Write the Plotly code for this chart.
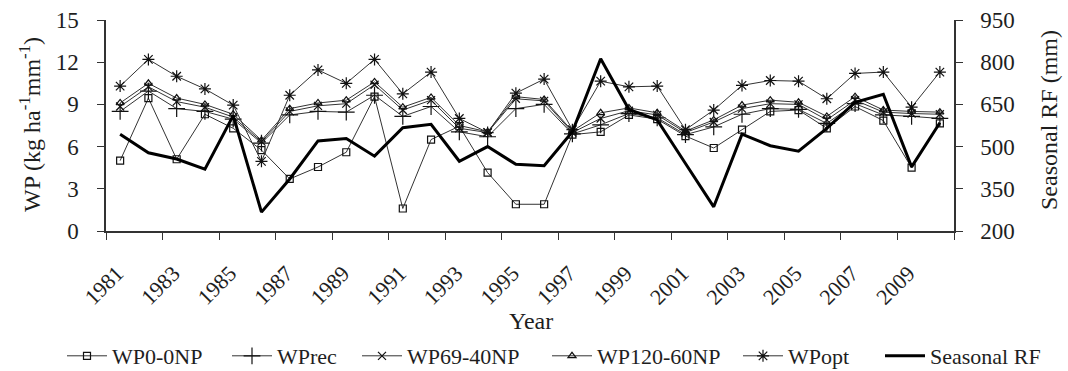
import plotly.graph_objects as go

years = list(range(1981, 2011))

wp0 = [5.0, 9.45, 5.1, 8.3, 7.3, 5.75, 3.7, 4.55, 5.6, 9.55, 1.6, 6.5, 7.45, 4.15, 1.9,
       1.9, 6.85, 7.05, 8.25, 7.95, 6.75, 5.9, 7.2, 8.5, 8.6, 7.3, 8.85, 7.85, 4.5, 7.65]
wprec = [8.5, 9.95, 8.7, 8.5, 7.95, 6.25, 8.25, 8.5, 8.45, 9.65, 8.15, 8.85, 7.05, 6.7, 8.7,
         9.0, 6.9, 7.55, 8.35, 8.05, 6.85, 7.4, 8.3, 8.7, 8.65, 7.65, 9.05, 8.25, 8.15, 8.0]
wp69 = [8.85, 10.25, 9.2, 8.8, 8.1, 6.35, 8.5, 8.9, 9.05, 10.4, 8.6, 9.3, 7.3, 7.0, 9.4,
        9.25, 7.0, 8.0, 8.55, 8.25, 7.0, 7.75, 8.7, 9.05, 9.0, 7.9, 9.3, 8.45, 8.35, 8.3]
wp120 = [9.1, 10.5, 9.45, 9.0, 8.3, 6.45, 8.7, 9.1, 9.3, 10.6, 8.8, 9.5, 7.5, 7.05, 9.55,
         9.35, 7.1, 8.4, 8.75, 8.4, 7.1, 7.9, 8.95, 9.3, 9.15, 8.15, 9.55, 8.6, 8.5, 8.45]
wpopt = [10.3, 12.2, 11.0, 10.1, 8.95, 4.95, 9.65, 11.45, 10.5, 12.2, 9.75, 11.3, 8.0, 7.0, 9.8,
         10.8, 7.2, 10.65, 10.25, 10.3, 7.2, 8.6, 10.35, 10.7, 10.65, 9.4, 11.2, 11.3, 8.8, 11.3]
seasonal_rf = [544, 478, 456, 420, 610, 267, 385, 520, 529, 466, 567, 579, 448, 500, 437,
               432, 553, 812, 632, 595, 440, 286, 544, 503, 484, 565, 657, 686, 428, 585]

tick_years = list(range(1981, 2010, 2))
left_ticks = [0, 3, 6, 9, 12, 15]
right_ticks = [200, 350, 500, 650, 800, 950]

FONT = "Liberation Serif, Times New Roman, serif"
LINE = "#333333"
TXT = "#1e1e1e"

# plot area in pixels
PL, PR, PT, PB = 106, 954, 20, 231
PW, PH = PR - PL, PB - PT


def px(x):
    return (x - PL) / PW


def py(y):
    return (PB - y) / PH


series = [
    ("WP0-0NP", wp0, "square-open", 7),
    ("WPrec", wprec, "cross-thin-open", 12),
    ("WP69-40NP", wp69, "x-thin-open", 8),
    ("WP120-60NP", wp120, "triangle-up-open", 7),
    ("WPopt", wpopt, "asterisk-open", 10),
]
# left edge of each legend entry's text in the reference (px)
legend_text_x = [114, 279, 409, 599, 790, 932]

fig = go.Figure()
for i, (name, vals, sym, size) in enumerate(series):
    fig.add_trace(go.Scatter(
        x=years, y=vals, name=name, mode="lines+markers",
        line=dict(color=LINE, width=1),
        marker=dict(symbol=sym, size=size, color="#111111",
                    line=dict(color="#111111", width=1.2)),
        yaxis="y", legend="legend" if i == 0 else f"legend{i + 1}"))

fig.add_trace(go.Scatter(
    x=years, y=seasonal_rf, name="Seasonal RF", mode="lines",
    line=dict(color="#000000", width=3), yaxis="y2", legend="legend6"))

legends = {}
for i, tx in enumerate(legend_text_x):
    key = "legend" if i == 0 else f"legend{i + 1}"
    legends[key] = dict(orientation="h", x=px(tx - 52), xanchor="left",
                        y=py(356), yanchor="middle",
                        font=dict(family=FONT, size=22, color=TXT),
                        itemwidth=40, bgcolor="rgba(0,0,0,0)", borderwidth=0)

fig.update_layout(
    width=1068, height=371,
    margin=dict(l=PL, r=1068 - PR, t=PT, b=371 - PB, autoexpand=False),
    paper_bgcolor="white", plot_bgcolor="white",
    font=dict(family=FONT, size=22, color=TXT),
    showlegend=True,
    xaxis=dict(
        range=[1980.5, 2010.5],
        tickmode="array",
        tickvals=[y - 0.5 for y in tick_years] + [2010.5],
        ticktext=[str(y) for y in tick_years] + [" "],
        tickangle=-45,
        ticklabelshift=11,
        ticklabelstandoff=12,
        ticks="outside", ticklen=7, tickwidth=1.3, tickcolor=LINE,
        showline=True, linecolor=LINE, linewidth=1.5,
        showgrid=False, zeroline=False, automargin=False,
        tickfont=dict(family=FONT, size=22, color=TXT),
    ),
    yaxis=dict(
        range=[0, 15], tickmode="array", tickvals=left_ticks,
        ticks="outside", ticklen=7, tickwidth=1.3, tickcolor=LINE,
        ticklabelstandoff=14,
        showline=True, linecolor=LINE, linewidth=1.5,
        showgrid=False, zeroline=False, automargin=False,
        tickfont=dict(family=FONT, size=23, color=TXT),
    ),
    yaxis2=dict(
        range=[200, 950], tickmode="array", tickvals=right_ticks,
        overlaying="y", side="right",
        ticks="outside", ticklen=7, tickwidth=1.3, tickcolor=LINE,
        ticklabelstandoff=13,
        showline=True, linecolor=LINE, linewidth=1.5,
        showgrid=False, zeroline=False, automargin=False,
        tickfont=dict(family=FONT, size=23, color=TXT),
    ),
    **legends,
)

fig.add_annotation(text="WP (kg ha<sup>-1</sup>mm<sup>-1</sup>)", textangle=-90,
                   xref="paper", yref="paper", x=px(30), y=py(125),
                   xanchor="center", yanchor="middle", showarrow=False,
                   font=dict(family=FONT, size=24, color=TXT))
fig.add_annotation(text="Seasonal RF (mm)", textangle=-90,
                   xref="paper", yref="paper", x=px(1049), y=py(120),
                   xanchor="center", yanchor="middle", showarrow=False,
                   font=dict(family=FONT, size=24, color=TXT))
fig.add_annotation(text="Year",
                   xref="paper", yref="paper", x=px(531), y=py(321),
                   xanchor="center", yanchor="middle", showarrow=False,
                   font=dict(family=FONT, size=24, color=TXT))

fig.write_html("out.html")
